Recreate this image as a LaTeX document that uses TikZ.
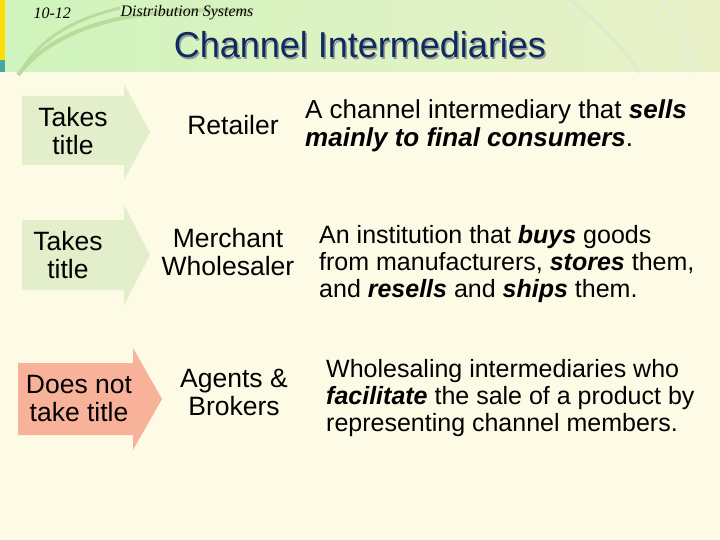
\documentclass[tikz,border=0pt]{standalone}
\usepackage{fontspec}
\setmainfont{Liberation Sans}
\newfontfamily\serifit{Liberation Serif}
\definecolor{cream}{HTML}{FDFBE6}
\definecolor{topg}{HTML}{DCE9B4}
\definecolor{lgreen}{HTML}{E3EECB}
\definecolor{salmon}{HTML}{F8B29A}
\definecolor{navy}{HTML}{0E2B5E}
\definecolor{swoosh}{HTML}{8FC15A}
\begin{document}
\begin{tikzpicture}[x=1pt,y=-1pt,
  lbl/.style={font=\fontsize{26.5}{28}\selectfont,align=center,text=black},
  deftext/.style={font=\fontsize{25}{27}\selectfont,align=left,anchor=north west,text=black,inner sep=0pt}]
\useasboundingbox (0,0) rectangle (720,540);
\fill[cream] (0,0) rectangle (720,540);
\shade[left color=topg!80!green!60,right color=topg!60!cream] (0,0) rectangle (720,72);
\fill[yellow!80!orange] (0,0) rectangle (5,60);
\fill[teal!70] (0,60) rectangle (5,72);
\fill[cream] (5,72) rectangle (720,540);
\draw[swoosh!60,line width=4pt] (18,75) .. controls (60,20) and (150,5) .. (250,12);
\draw[swoosh!60,line width=3pt] (22,70) .. controls (40,40) and (70,20) .. (120,8);
\draw[swoosh!30,line width=3pt] (570,0) .. controls (610,30) and (630,60) .. (640,72);
\draw[swoosh!25,line width=3pt] (660,0) .. controls (685,25) and (690,50) .. (688,72);
\node[anchor=west,font=\serifit\itshape\fontsize{16}{17}\selectfont] (num) at (30,13) {10-12};
\node[anchor=west,font=\serifit\itshape\fontsize{16}{17}\selectfont] (sec) at (117,13) {Distribution Systems};
\node[font=\fontsize{36}{38}\selectfont,text=black!40] at (361.5,46.5) {Channel Intermediaries};
\node[font=\fontsize{36}{38}\selectfont,text=navy] (title) at (360,45) {Channel Intermediaries};
% arrows
\fill[lgreen] (22,96) -- (124,96) -- (124,84) -- (150,132) -- (124,180) -- (124,165) -- (22,165) -- cycle;
\fill[lgreen] (22,220) -- (124,220) -- (124,205) -- (150,255) -- (124,305) -- (124,290) -- (22,290) -- cycle;
\fill[salmon] (18,363) -- (133,363) -- (133,348) -- (162,399) -- (133,450) -- (133,435) -- (18,435) -- cycle;
\node[lbl] (a1) at (73,131) {Takes\\title};
\node[lbl] (a2) at (68,255) {Takes\\title};
\node[lbl] (a3) at (79,399) {Does not\\take title};
\node[lbl] (t1) at (233,125) {Retailer};
\node[lbl] (t2) at (228,252) {Merchant\\Wholesaler};
\node[lbl] (t3) at (234,392) {Agents \&\\Brokers};
\node[deftext,font=\fontsize{26}{28}\selectfont] (d1) at (305,99) {A channel intermediary that \textbf{\textit{sells}}\\\textbf{\textit{mainly to final consumers}}.};
\node[deftext] (d2) at (319,225) {An institution that \textbf{\textit{buys}} goods\\from manufacturers, \textbf{\textit{stores}} them,\\and \textbf{\textit{resells}} and \textbf{\textit{ships}} them.};
\node[deftext] (d3) at (326,359) {Wholesaling intermediaries who\\\textbf{\textit{facilitate}} the sale of a product by\\representing channel members.};
\end{tikzpicture}
\end{document}
